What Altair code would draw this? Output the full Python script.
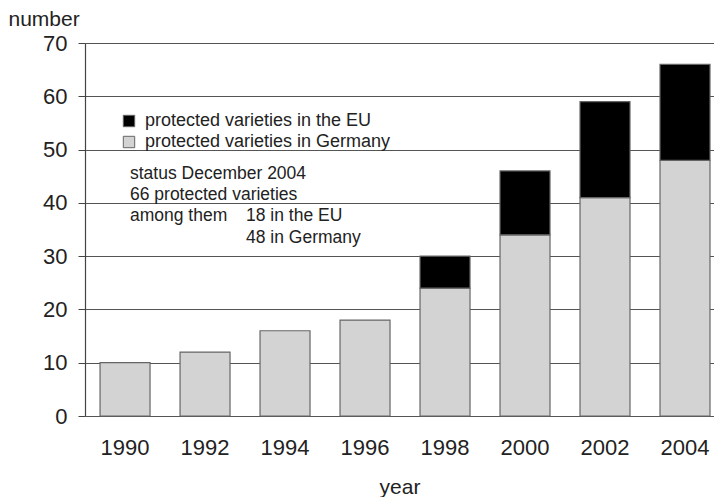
import altair as alt
import pandas as pd

years = ["1990", "1992", "1994", "1996", "1998", "2000", "2002", "2004"]
germany = [10, 12, 16, 18, 24, 34, 41, 48]
eu = [0, 0, 0, 0, 6, 12, 18, 18]
series = ["protected varieties in the EU", "protected varieties in Germany"]
notes = ["status December 2004", "66 protected varieties", "among them", "18 in the EU", "48 in Germany"]

rows = []
for y, g, e in zip(years, germany, eu):
    rows.append({"year": y, "series": series[1], "value": g, "ord": 0})
    if e > 0:
        rows.append({"year": y, "series": series[0], "value": e, "ord": 1})
df = pd.DataFrame(rows)

FONT = "Liberation Sans"

bars = alt.Chart(df).mark_bar(stroke="#666666", strokeWidth=1.2).encode(
    x=alt.X("year:N", sort=years, title="year",
            scale=alt.Scale(paddingInner=0.375, paddingOuter=0.119, align=0.79),
            axis=alt.Axis(labelAngle=0, ticks=False, domain=False, labelPadding=21,
                          titlePadding=18)),
    y=alt.Y("value:Q", stack="zero", title="number",
            scale=alt.Scale(domain=[0, 70], nice=False),
            axis=alt.Axis(values=[0, 10, 20, 30, 40, 50, 60, 70], tickSize=7,
                          tickColor="#444444", domainColor="#444444", domainWidth=1.2,
                          gridColor="#555555", gridWidth=1.2, grid=True,
                          labelPadding=11, titleAngle=0, titleAlign="left",
                          titleBaseline="bottom", titleX=-77, titleY=-14)),
    color=alt.Color("series:N",
                    scale=alt.Scale(domain=series, range=["#000000", "#d3d3d3"]),
                    legend=alt.Legend(title=None, orient="none", legendX=35, legendY=69,
                                      symbolType="square", symbolSize=130,
                                      symbolStrokeColor="#666666", symbolStrokeWidth=1,
                                      labelFontSize=18, labelFont=FONT, labelColor="#222222",
                                      labelLimit=400, rowPadding=3, labelOffset=7)),
    order=alt.Order("ord:Q"),
)

note_df = pd.DataFrame({
    "text": notes,
    "px": [45, 45, 45, 161, 161],
    "py": [131, 152, 173, 173, 195],
})
annot = alt.Chart(note_df).mark_text(align="left", baseline="middle", fontSize=17.5,
                                      font=FONT, color="#222222").encode(
    text="text:N",
    x=alt.X("px:Q", scale=None),
    y=alt.Y("py:Q", scale=None),
)

chart = alt.layer(bars, annot).properties(
    width=629, height=373, background="white",
    padding={"left": 0, "top": 0, "right": 0, "bottom": 0}
).configure_view(
    stroke=None
).configure_axis(
    labelFont=FONT, titleFont=FONT, labelFontSize=22, titleFontSize=21,
    labelColor="#222222", titleColor="#222222", titleFontWeight="normal"
)

chart.save("out.html", embed_options={"renderer": "svg", "actions": False})
